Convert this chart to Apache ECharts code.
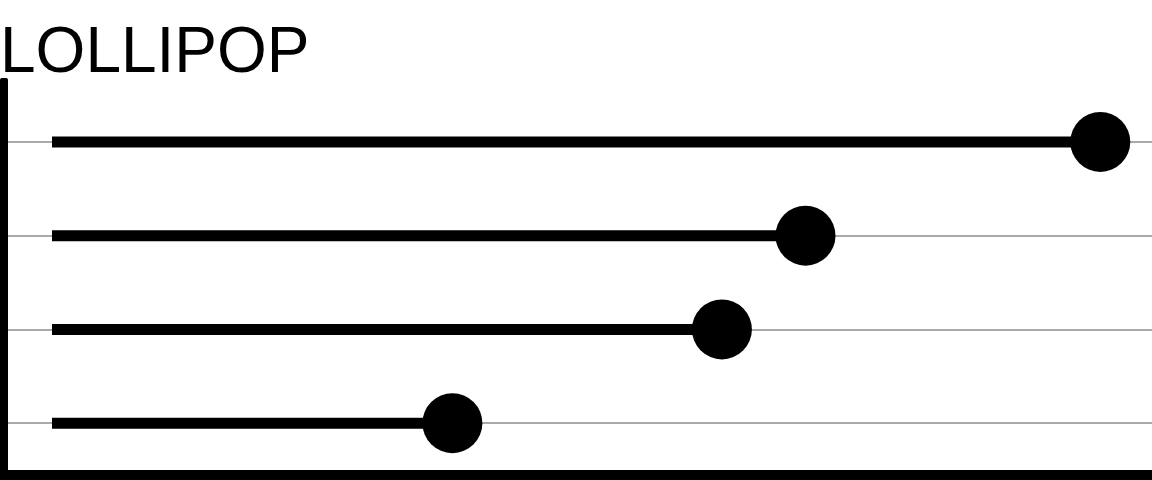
<!DOCTYPE html>
<html>
<head>
<meta charset="utf-8">
<script src="https://cdn.jsdelivr.net/npm/echarts@6/dist/echarts.min.js"></script>
<style>
  html, body { margin: 0; padding: 0; background: #fff; }
  #chart { width: 1152px; height: 480px; }
</style>
</head>
<body>
<div id="chart"></div>
<script>
/****** DATA ******/
// categories listed bottom to top (no labels shown in the picture)
var categories = ['D', 'C', 'B', 'A'];
var values = [36.4, 60.9, 68.5, 95.3];

var chart = echarts.init(document.getElementById('chart'));

var option = {
    animation: false,
    title: {
        text: 'LOLLIPOP',
        left: 0,
        top: 22,
        padding: 0,
        textStyle: {
            fontFamily: 'Liberation Sans',
            fontSize: 64,
            fontWeight: 'normal',
            color: '#000'
        }
    },
    grid: {
        left: 8,
        right: 0,
        top: 95,
        bottom: 10
    },
    xAxis: {
        type: 'value',
        min: -4,
        max: 100,
        offset: 5,
        axisLabel: { show: false },
        axisTick: { show: false },
        splitLine: { show: false },
        axisLine: {
            show: true,
            lineStyle: { color: '#000', width: 10 }
        }
    },
    yAxis: {
        type: 'category',
        data: categories,
        offset: 4,
        axisLabel: { show: false },
        axisTick: { show: false },
        axisLine: {
            show: true,
            onZero: false,
            symbol: ['rect', 'roundRect'],
            symbolSize: [8, 34],
            lineStyle: { color: '#000', width: 8 }
        },
        splitLine: {
            show: true,
            alignWithLabel: true,
            lineStyle: { color: '#aaa', width: 2 }
        }
    },
    series: [{
        type: 'bar',
        data: values,
        barWidth: 11,
        itemStyle: { color: '#000' },
        z: 2
    }, {
        type: 'scatter',
        data: values,
        symbol: 'circle',
        symbolSize: 60,
        itemStyle: { color: '#000', opacity: 1 },
        z: 3
    }]
};

chart.setOption(option);
</script>
</body>
</html>
